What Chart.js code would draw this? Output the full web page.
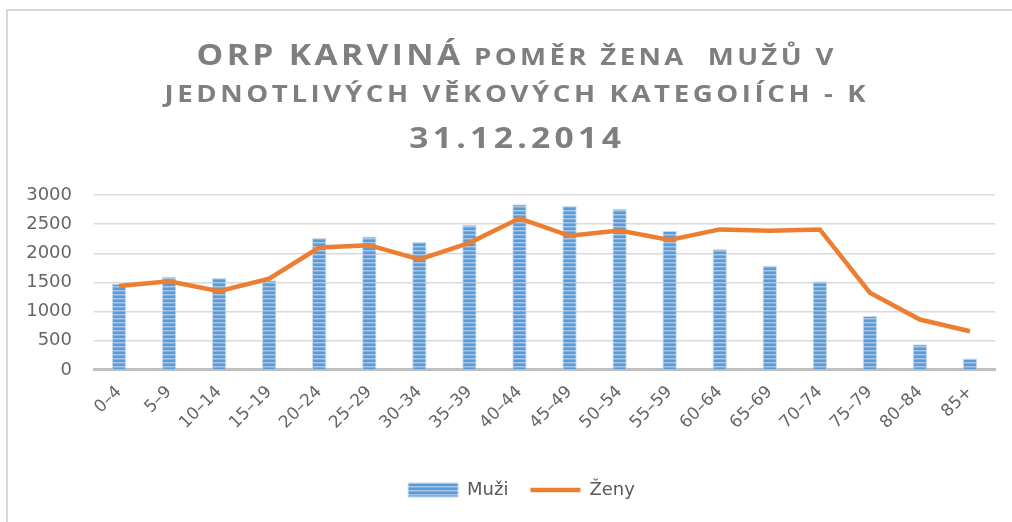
<!DOCTYPE html>
<html>
<head>
<meta charset="utf-8">
<script src="https://cdn.jsdelivr.net/npm/chart.js@4.4.1/dist/chart.umd.min.js"></script>
<style>
  html, body { margin: 0; padding: 0; background: #fff; }
  #wrap { position: relative; width: 1012px; height: 522px; overflow: hidden; }
  #frame { position: absolute; left: 6px; top: 9px; width: 1100px; height: 600px;
           border-top: 2px solid #d9d9d9; border-left: 2px solid #d9d9d9; }
  canvas { position: absolute; left: 0; top: 0; }
</style>
</head>
<body>
<div id="wrap">
  <div id="frame"></div>
  <canvas id="c" width="1012" height="522"></canvas>
</div>
<script>
const categories = ['0–4','5–9','10–14','15–19','20–24','25–29','30–34','35–39','40–44','45–49','50–54','55–59','60–64','65–69','70–74','75–79','80–84','85+'];
const muzi = [1480, 1600, 1580, 1540, 2265, 2290, 2200, 2490, 2840, 2810, 2765, 2385, 2075, 1790, 1520, 925, 440, 195];
const zeny = [1440, 1520, 1350, 1565, 2100, 2140, 1895, 2180, 2600, 2300, 2390, 2230, 2410, 2385, 2410, 1325, 865, 665];
const yTicks = [0, 500, 1000, 1500, 2000, 2500, 3000];
const titleLines = [
  [{ t: 'ORP KARVINÁ', big: true }, { t: ' POMĚR ŽENA  MUŽŮ V', big: false }],
  [{ t: 'JEDNOTLIVÝCH VĚKOVÝCH KATEGOIÍCH - K', big: false }],
  [{ t: '31.12.2014', big: true }]
];

function stripePattern() {
  const p = document.createElement('canvas');
  p.width = 4; p.height = 4;
  const g = p.getContext('2d');
  g.fillStyle = '#5b9bd5'; g.fillRect(0, 0, 4, 2);
  g.fillStyle = '#a7c8ea'; g.fillRect(0, 2, 4, 1);
  g.fillStyle = '#7eb0e0'; g.fillRect(0, 3, 4, 1);
  return g.createPattern(p, 'repeat');
}
const barFill = stripePattern();

const titlePlugin = {
  id: 'mixedTitle',
  afterLayout(chart) {
    if (chart.legend) { chart.legend.left += 22; chart.legend.right += 22; }
  },
  afterDraw(chart) {
    const ctx = chart.ctx;
    const fam = '"Open Sans", "DejaVu Sans", sans-serif';
    const sx = 1.2;
    const cfg = [
      { base: 65, ls: 2.8 },
      { base: 102, ls: 3.0 },
      { base: 148, ls: 3.6 }
    ];
    const bigSize = 28, smallSize = 23;
    const cx = 515;
    ctx.save();
    ctx.fillStyle = '#7f7f7f';
    ctx.textBaseline = 'alphabetic';
    ctx.textAlign = 'left';
    titleLines.forEach((runs, i) => {
      const c = cfg[i];
      ctx.letterSpacing = c.ls + 'px';
      let total = 0;
      const widths = runs.map(r => {
        ctx.font = 'bold ' + (r.big ? bigSize : smallSize) + 'px ' + fam;
        const w = ctx.measureText(r.t).width;
        total += w;
        return w;
      });
      total -= c.ls;
      let x = (cx - total * sx / 2) / sx;
      ctx.save();
      ctx.scale(sx, 1);
      runs.forEach((r, k) => {
        ctx.font = 'bold ' + (r.big ? bigSize : smallSize) + 'px ' + fam;
        ctx.fillText(r.t, x, c.base);
        x += widths[k];
      });
      ctx.restore();
    });
    ctx.restore();
  }
};

new Chart(document.getElementById('c'), {
  data: {
    labels: categories,
    datasets: [
      {
        type: 'line',
        label: 'Ženy',
        data: zeny,
        borderColor: '#ed7d31',
        backgroundColor: '#ed7d31',
        borderWidth: 4.5,
        pointRadius: 0,
        pointStyle: 'line',
        tension: 0,
        order: 0
      },
      {
        type: 'bar',
        label: 'Muži',
        data: muzi,
        backgroundColor: barFill,
        borderColor: '#c6dcf1',
        borderWidth: 1,
        pointStyle: 'rect',
        barPercentage: 0.36,
        categoryPercentage: 0.8,
        order: 1
      }
    ]
  },
  options: {
    responsive: false,
    animation: false,
    layout: { padding: { top: 195, left: 4, right: 17, bottom: 13 } },
    plugins: {
      title: { display: false },
      tooltip: { enabled: false },
      legend: {
        position: 'bottom',
        reverse: true,
        labels: {
          usePointStyle: true,
          pointStyleWidth: 50,
          boxHeight: 14,
          padding: 22,
          color: '#595959',
          font: { family: '"DejaVu Sans", sans-serif', size: 18 }
        }
      }
    },
    scales: {
      x: {
        grid: { display: false, drawTicks: false },
        border: { display: true, color: '#bfbfbf', width: 3 },
        afterFit(scale) { scale.height += 14; scale.paddingLeft = 0; scale.paddingRight = 0; },
        ticks: {
          color: '#666666',
          font: { family: '"DejaVu Sans", sans-serif', size: 17 },
          minRotation: 45,
          maxRotation: 45,
          padding: 12
        }
      },
      y: {
        min: 0,
        max: 3000,
        afterBuildTicks(scale) { scale.ticks = yTicks.map(v => ({ value: v })); },
        afterFit(scale) { scale.width = 90; },
        grid: { color: '#d9d9d9', lineWidth: 1.5, drawTicks: false },
        border: { display: false },
        ticks: {
          color: '#666666',
          font: { family: '"DejaVu Sans", sans-serif', size: 18 },
          padding: 22,
          callback: (v) => String(v)
        }
      }
    }
  },
  plugins: [titlePlugin]
});
</script>
</body>
</html>
